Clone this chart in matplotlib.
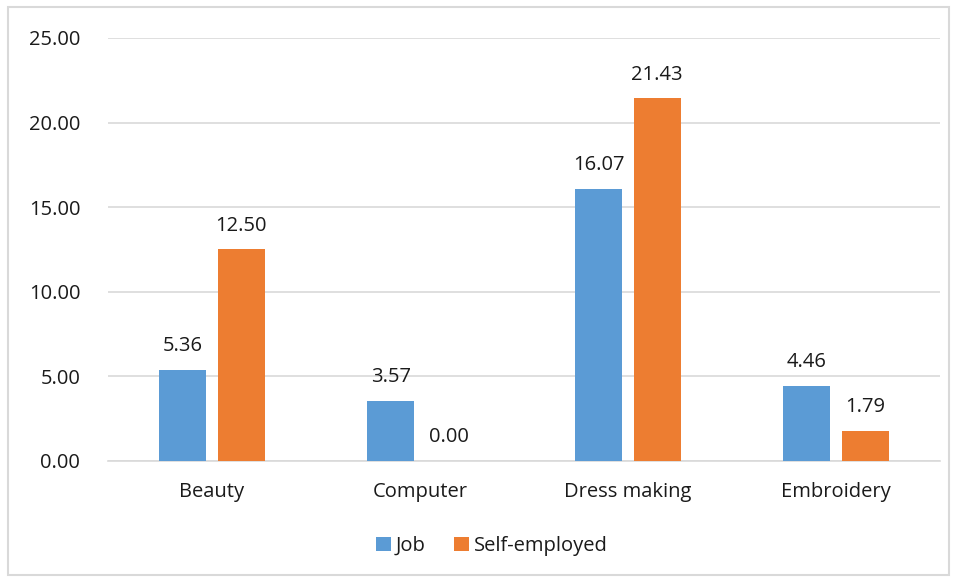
import matplotlib
matplotlib.use("Agg")
import matplotlib.pyplot as plt
import numpy as np
from matplotlib.patches import Rectangle

categories = ["Beauty", "Computer", "Dress making", "Embroidery"]
job = [5.36, 3.57, 16.07, 4.46]
self_employed = [12.50, 0.00, 21.43, 1.79]
yticks = [0, 5, 10, 15, 20, 25]

plt.rcParams["font.family"] = ["Open Sans", "DejaVu Sans"]
TEXT = "#1a1a1a"
BLUE = "#5B9BD5"
ORANGE = "#ED7D31"
FS = 14.5

fig = plt.figure(figsize=(9.58, 5.79), dpi=100)
fig.patches.append(Rectangle((8 / 958, 4 / 579), 941 / 958, 568 / 579,
                             transform=fig.transFigure, fill=False,
                             edgecolor="#d9d9d9", linewidth=1.5))
ax = fig.add_axes([108 / 958, 1 - 461 / 579, 832 / 958, 423 / 579])

x = np.arange(len(categories))
w = 0.226
gap = 0.053
b1 = ax.bar(x - (w + gap) / 2, job, w, color=BLUE, label="Job", zorder=3)
b2 = ax.bar(x + (w + gap) / 2, self_employed, w, color=ORANGE,
            label="Self-employed", zorder=3)

for bars, vals in ((b1, job), (b2, self_employed)):
    for r, v in zip(bars, vals):
        ax.annotate(f"{v:.2f}", (r.get_x() + r.get_width() / 2, v),
                    xytext=(0, 10), textcoords="offset points",
                    ha="center", va="bottom", fontsize=FS, color=TEXT)

ax.set_xlim(-0.5, len(categories) - 0.5)
ax.set_ylim(0, 25)
ax.set_yticks(yticks)
ax.set_yticklabels([f"{t:.2f}" for t in yticks])
ax.set_xticks(x)
ax.set_xticklabels(categories)
ax.yaxis.grid(True, color="#d9d9d9", linewidth=1.2, zorder=0)
ax.tick_params(axis="both", length=0, labelsize=FS, labelcolor=TEXT)
ax.tick_params(axis="y", pad=20)
ax.tick_params(axis="x", pad=15)
for s in ("top", "right", "left"):
    ax.spines[s].set_visible(False)
ax.spines["bottom"].set_color("#d9d9d9")
ax.spines["bottom"].set_linewidth(1.2)

fig.legend(handles=[b1, b2], loc="center", bbox_to_anchor=(492 / 958, 1 - 546 / 579),
           ncol=2, frameon=False, fontsize=FS, handlelength=0.75,
           handleheight=0.75, handletextpad=0.25, columnspacing=1.4,
           labelcolor=TEXT)

fig.savefig("out.png", dpi=100, facecolor="white")
